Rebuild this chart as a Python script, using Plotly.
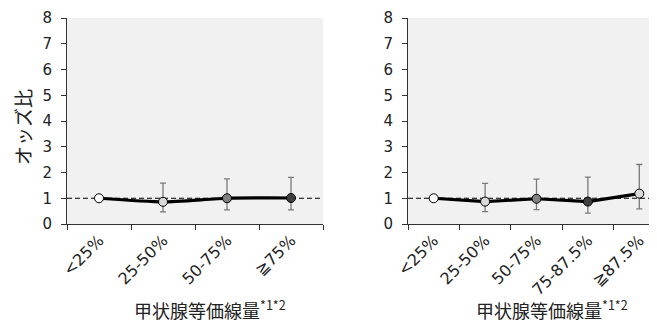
import plotly.graph_objects as go

# ---- data ----
cats_left = ["<25%", "25-50%", "50-75%", "≧75%"]
or_left = [1.0, 0.86, 1.0, 1.01]
upper_left = [None, 1.59, 1.75, 1.81]
lower_left = [None, 0.47, 0.55, 0.55]
fills_left = ["#ffffff", "#d9d9d9", "#808080", "#404040"]

cats_right = ["<25%", "25-50%", "50-75%", "75-87.5%", "≧87.5%"]
or_right = [1.0, 0.87, 0.98, 0.87, 1.18]
upper_right = [None, 1.58, 1.74, 1.82, 2.31]
lower_right = [None, 0.48, 0.56, 0.42, 0.59]
fills_right = ["#ffffff", "#d9d9d9", "#808080", "#404040", "#d9d9d9"]

y_ticks = [0, 1, 2, 3, 4, 5, 6, 7, 8]
x_title = "甲状腺等価線量<sup>*1*2</sup>"
y_title = "オッズ比"

W, H = 657, 326
OFF = 8  # page body margin offset of the plot div
CJK = "Noto Sans CJK JP"
NUM = "DejaVu Sans"
TXT = "#222222"

fig = go.Figure()


def add_panel(cats, ors, ups, los, fills, xa, ya, smooth):
    xs_e = [c for c, u in zip(cats, ups) if u is not None]
    ys_e = [v for v, u in zip(ors, ups) if u is not None]
    plus = [u - v for v, u in zip(ors, ups) if u is not None]
    minus = [v - l for v, l in zip(ors, los) if l is not None]
    fig.add_trace(go.Scatter(
        x=xs_e, y=ys_e, mode="markers",
        marker=dict(size=1, opacity=0),
        error_y=dict(type="data", array=plus, arrayminus=minus,
                     color="#7a7a7a", thickness=1.3, width=3),
        xaxis=xa, yaxis=ya, showlegend=False, hoverinfo="skip"))
    fig.add_trace(go.Scatter(
        x=cats, y=ors, mode="lines+markers",
        line=dict(color="#000000", width=3.2,
                  shape="spline" if smooth else "linear", smoothing=0.6),
        marker=dict(size=9, color=fills, line=dict(color="#000000", width=1)),
        xaxis=xa, yaxis=ya, showlegend=False))


add_panel(cats_left, or_left, upper_left, lower_left, fills_left, "x", "y", True)
add_panel(cats_right, or_right, upper_right, lower_right, fills_right, "x2", "y2", False)

ydom = [(H - (224 - OFF)) / H, (H - (18 - OFF)) / H]
axis_common = dict(showline=True, linecolor="#333333", linewidth=1,
                   ticks="outside", ticklen=5, tickcolor="#333333",
                   showgrid=False, zeroline=False, automargin=False)

fig.update_layout(
    width=W, height=H,
    margin=dict(l=0, r=0, t=0, b=0),
    paper_bgcolor="#ffffff",
    plot_bgcolor="#f1f1f1",
    font=dict(family=NUM, color=TXT),
    xaxis=dict(domain=[(67 - OFF) / W, (323 - OFF) / W], type="category",
               categoryorder="array", categoryarray=cats_left,
               range=[-0.5, len(cats_left) - 0.5], tickson="boundaries",
               tickangle=-45, tickfont=dict(size=16, family=NUM),
               anchor="y", **axis_common),
    yaxis=dict(domain=ydom, range=[0, 8], tickvals=y_ticks, ticklabelstandoff=6,
               tickfont=dict(size=15, family=NUM), anchor="x", **axis_common),
    xaxis2=dict(domain=[(408 - OFF) / W, 1.0], type="category",
                categoryorder="array", categoryarray=cats_right,
                range=[-0.5, len(cats_right) - 0.5], tickson="boundaries",
                tickangle=-45, tickfont=dict(size=16, family=NUM),
                anchor="y2", **axis_common),
    yaxis2=dict(domain=ydom, range=[0, 8], tickvals=y_ticks, ticklabelstandoff=6,
                tickfont=dict(size=15, family=NUM), anchor="x2", **axis_common),
)

for xr, yr in [("x domain", "y"), ("x2 domain", "y2")]:
    fig.add_shape(type="line", xref=xr, yref=yr, x0=0, x1=1, y0=1, y1=1,
                  line=dict(color="#000000", width=1.2, dash="5px,3px"),
                  layer="below")

for cx in (210, 552):
    fig.add_annotation(text=x_title, xref="paper", yref="paper",
                       x=(cx - OFF) / W, y=1 - (325 - OFF) / H,
                       xanchor="center", yanchor="bottom", showarrow=False,
                       font=dict(family=CJK, size=18, color=TXT))
fig.add_annotation(text=y_title, xref="paper", yref="paper",
                   x=(22 - OFF) / W, y=1 - (127 - OFF) / H,
                   xanchor="center", yanchor="middle", showarrow=False,
                   textangle=-90,
                   font=dict(family=CJK, size=19, color=TXT))

fig.write_html("out.html")
